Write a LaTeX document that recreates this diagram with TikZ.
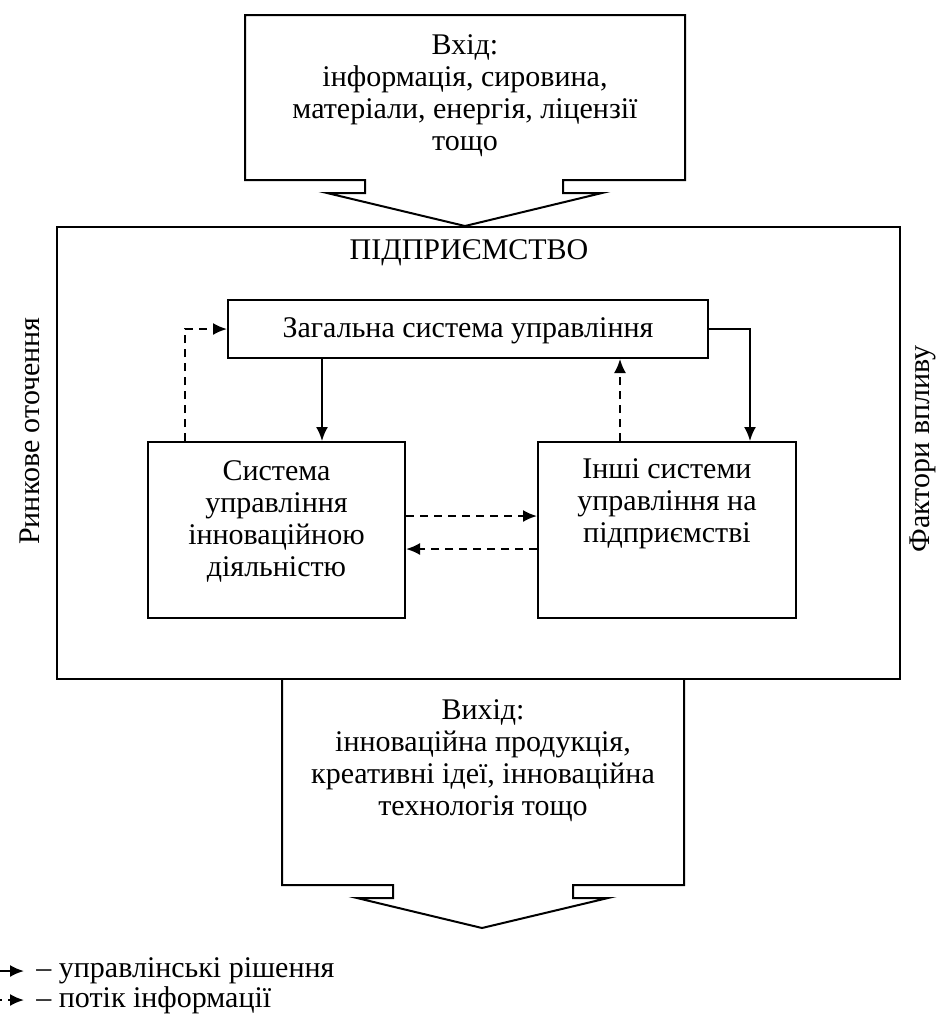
\documentclass[tikz,border=0pt]{standalone}
\usepackage{fontspec}
\setmainfont{Liberation Serif}
\usetikzlibrary{arrows.meta}
\tikzset{
  px/.style={x=0.5pt,y=-0.5pt},
  boxline/.style={draw=black,line width=1pt},
  blk/.style={boxline,fill=white,inner sep=0pt},
  txt/.style={align=center,font=\fontsize{15}{16}\selectfont,inner sep=0pt},
  sol/.style={line width=1pt,-{Latex[length=7pt,width=6pt]}},
  das/.style={line width=1pt,dash pattern=on 4pt off 3pt,-{Latex[length=7pt,width=6pt]}},
}
\begin{document}
\begin{tikzpicture}[px]
\useasboundingbox (0,0) rectangle (940,1014);
% outer enterprise box
\node[blk,minimum width=421.5pt,minimum height=226pt] (ent) at (478.5,453) {};
% top input callout
\draw[boxline,fill=white,line join=miter] (245,15) -- (685,15) -- (685,180) -- (563,180) -- (563,193) -- (602,193) -- (465,226) -- (327,193) -- (365,193) -- (365,180) -- (245,180) -- cycle;
\node[txt] (inp) at (465,96) {Вхід:\\інформація, сировина,\\матеріали, енергія, ліцензії\\тощо};
% bottom output callout
\draw[boxline,line join=miter] (282,679) -- (282,885) -- (393,885) -- (393,898) -- (357,898) -- (482,928) -- (608,898) -- (573,898) -- (573,885) -- (684,885) -- (684,679);
\node[txt] (out) at (483,761) {Вихід:\\інноваційна продукція,\\креативні ідеї, інноваційна\\технологія тощо};
% title
\node[txt] (title) at (469,253) {ПІДПРИЄМСТВО};
% side labels
\node[txt,rotate=90] (mkt) at (30,431) {Ринкове оточення};
\node[txt,rotate=90] (fct) at (923,449) {Фактори впливу};
% inner boxes
\node[blk,minimum width=240pt,minimum height=29pt] (zag) at (468,329) {};
\node[txt] (zagt) at (468,331) {Загальна система управління};
\node[blk,minimum width=128.5pt,minimum height=88pt] (lb) at (276.5,530) {};
\node[txt] (lbt) at (276.5,521) {Система\\управління\\інноваційною\\діяльністю};
\node[blk,minimum width=129pt,minimum height=88pt] (rb) at (667,530) {};
\node[txt] (rbt) at (667,504) {Інші системи\\управління на\\підприємстві};
% connectors
\draw[sol] (322,0 |- zag.south) -- (322,0 |- lb.north);
\draw[das] (185,0 |- lb.north) |- (zag.west);
\draw[das] (620,0 |- rb.north) -- (620,0 |- zag.south);
\draw[sol] (zag.east) -| (750,0 |- rb.north);
\draw[das] (lb.east |- 0,516) -- (rb.west |- 0,516);
\draw[das] (rb.west |- 0,549) -- (lb.east |- 0,549);
% legend
\coordinate (l1s) at (-20,971);
\coordinate (l1e) at (24,971);
\coordinate (l2s) at (-20,1000);
\coordinate (l2e) at (24,1000);
\draw[sol] (l1s) -- (l1e);
\draw[das] (l2s) -- (l2e);
\node[txt,anchor=west] (leg1) at (36,971) {– управлінські рішення};
\node[txt,anchor=west] (leg2) at (36,1000) {– потік інформації};
\end{tikzpicture}
\end{document}
